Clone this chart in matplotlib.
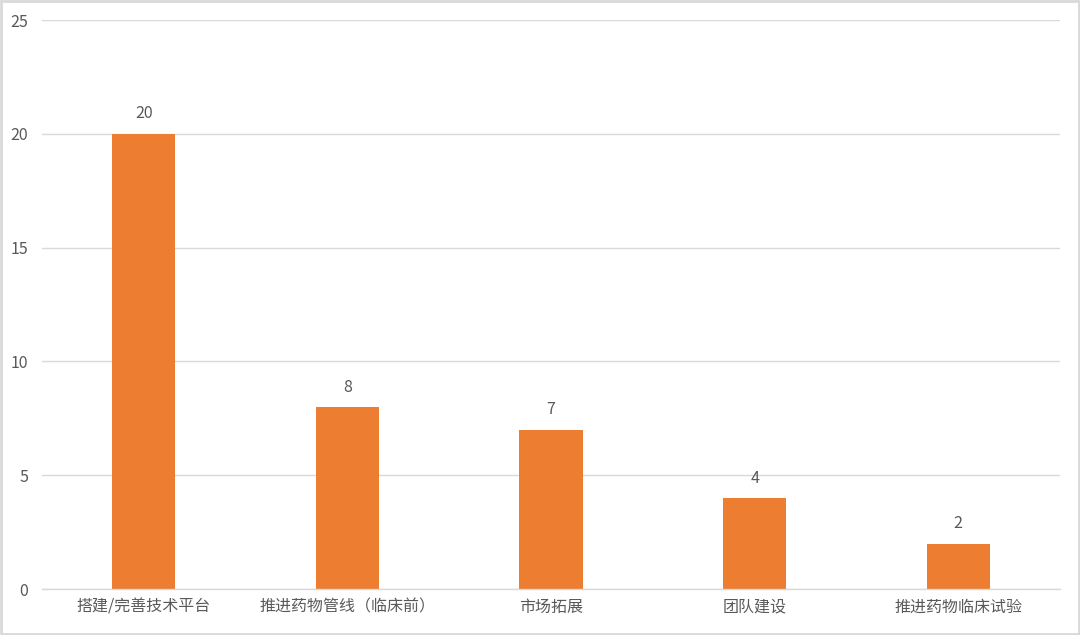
import matplotlib
matplotlib.use("Agg")
import matplotlib.pyplot as plt
from matplotlib.patches import Rectangle

plt.rcParams['font.family'] = ['Noto Sans CJK SC', 'DejaVu Sans']

categories = ["搭建/完善技术平台", "推进药物管线（临床前）", "市场拓展", "团队建设", "推进药物临床试验"]
counts = [20, 8, 7, 4, 2]
yticks = [0, 5, 10, 15, 20, 25]

BAR_COLOR = "#ED7D31"
GRID_COLOR = "#D9D9D9"
TEXT_COLOR = "#595959"

fig = plt.figure(figsize=(10.8, 6.35), dpi=100)
ax = fig.add_axes([0.0389, 0.0724, 0.9426, 0.8961])

x = list(range(len(categories)))
bars = ax.bar(x, counts, width=0.31, color=BAR_COLOR, zorder=3)

for xi, v in zip(x, counts):
    ax.text(xi, v + 0.5, str(v), ha="center", va="bottom",
            fontsize=11.5, color=TEXT_COLOR)

ax.set_xlim(-0.5, len(categories) - 0.5)
ax.set_ylim(0, 25)
ax.set_yticks(yticks)
ax.set_xticks(x)
ax.set_xticklabels(categories)
ax.tick_params(axis="both", length=0, labelsize=11.5, labelcolor=TEXT_COLOR)
ax.tick_params(axis="x", pad=7)
ax.tick_params(axis="y", pad=10)
ax.grid(axis="y", color=GRID_COLOR, linewidth=1, zorder=0)
for side in ["top", "right", "left"]:
    ax.spines[side].set_visible(False)
ax.spines["bottom"].set_color(GRID_COLOR)
ax.spines["bottom"].set_linewidth(1)
ax.spines["bottom"].set_zorder(4)

# light frame around the picture
fig.patches.append(Rectangle((0.001, 0.002), 0.998, 0.996, transform=fig.transFigure,
                             fill=False, edgecolor="#D9D9D9", linewidth=2))

fig.savefig("out.png", dpi=100)
